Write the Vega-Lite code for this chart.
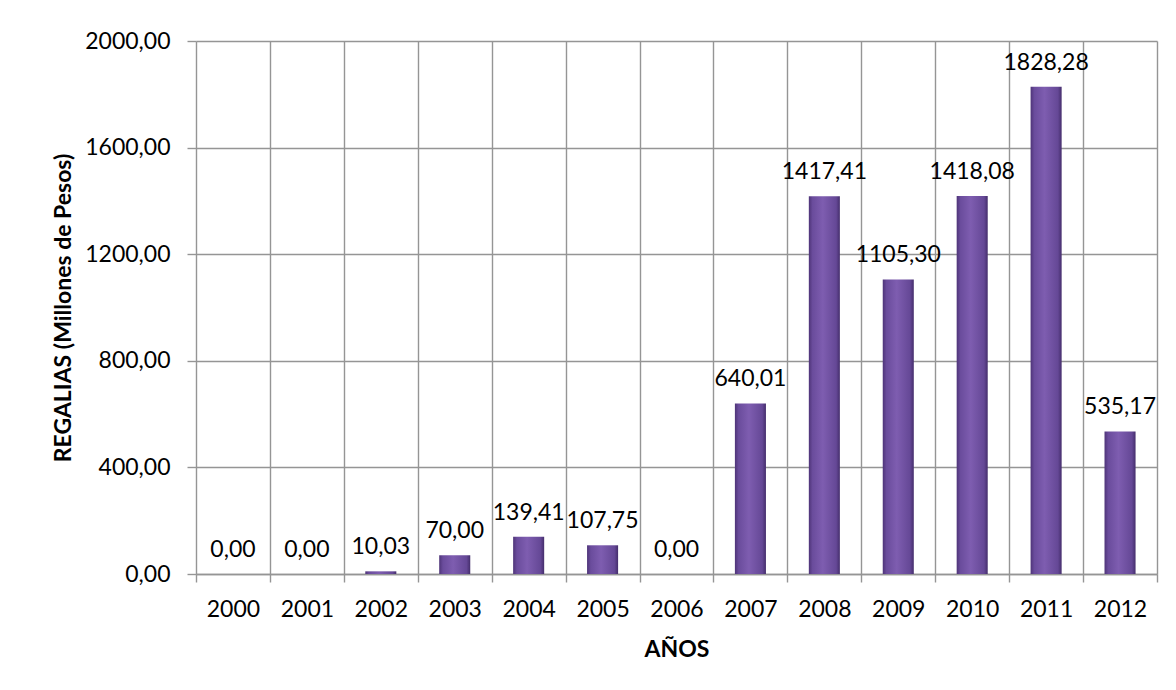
{
  "$schema": "https://vega.github.io/schema/vega-lite/v6.json",
  "autosize": "none",
  "width": 961,
  "height": 533,
  "padding": {"left": 196, "top": 41, "right": 19, "bottom": 116},
  "background": "white",
  "config": {
    "locale": {"number": {"decimal": ",", "thousands": ".", "grouping": [3], "currency": ["$", ""]}},
    "font": "Lato",
    "view": {"stroke": null}
  },
  "data": {
    "values": [
      {"year": "2000", "value": 0.00},
      {"year": "2001", "value": 0.00},
      {"year": "2002", "value": 10.03},
      {"year": "2003", "value": 70.00},
      {"year": "2004", "value": 139.41},
      {"year": "2005", "value": 107.75},
      {"year": "2006", "value": 0.00},
      {"year": "2007", "value": 640.01},
      {"year": "2008", "value": 1417.41},
      {"year": "2009", "value": 1105.30},
      {"year": "2010", "value": 1418.08},
      {"year": "2011", "value": 1828.28},
      {"year": "2012", "value": 535.17}
    ]
  },
  "encoding": {
    "x": {
      "field": "year",
      "type": "ordinal",
      "scale": {"paddingInner": 0, "paddingOuter": 0},
      "axis": {
        "title": "AÑOS",
        "labelAngle": 0,
        "labelFont": "Lato",
        "labelFontSize": 23,
        "labelColor": "#000000",
        "labelPadding": 16,
        "tickBand": "extent",
        "tickSize": 8,
        "tickColor": "#959595",
        "tickWidth": 1.4,
        "domainColor": "#959595",
        "domainWidth": 1.4,
        "grid": true,
        "gridColor": "#959595",
        "gridWidth": 1.4,
        "titleFont": "Lato",
        "titleFontSize": 23,
        "titleFontWeight": "bold",
        "titleColor": "#000000",
        "titlePadding": 17
      }
    },
    "y": {
      "field": "value",
      "type": "quantitative",
      "scale": {"domain": [0, 2000]},
      "axis": {
        "title": "REGALIAS (Millones de Pesos)",
        "values": [0, 400, 800, 1200, 1600, 2000],
        "format": ".2f",
        "labelFont": "Lato",
        "labelFontSize": 23,
        "labelColor": "#000000",
        "labelPadding": 17,
        "tickSize": 9,
        "tickColor": "#959595",
        "tickWidth": 1.4,
        "domain": false,
        "grid": true,
        "gridColor": "#959595",
        "gridWidth": 1.4,
        "titleFont": "Lato",
        "titleFontSize": 23,
        "titleFontWeight": "bold",
        "titleColor": "#000000",
        "titlePadding": 9
      }
    }
  },
  "layer": [
    {
      "mark": {
        "type": "bar",
        "width": {"band": 0.42},
        "color": {
          "gradient": "linear",
          "x1": 0, "x2": 1, "y1": 0, "y2": 0,
          "stops": [
            {"offset": 0, "color": "#4e3478"},
            {"offset": 0.12, "color": "#6a4c9c"},
            {"offset": 0.45, "color": "#7e5db0"},
            {"offset": 0.88, "color": "#654896"},
            {"offset": 1, "color": "#452e6c"}
          ]
        }
      }
    },
    {
      "mark": {
        "type": "text",
        "baseline": "alphabetic",
        "align": "center",
        "dy": -17,
        "font": "Lato",
        "fontSize": 23,
        "color": "#000000"
      },
      "encoding": {
        "text": {"field": "value", "type": "quantitative", "format": ".2f"}
      }
    }
  ]
}
